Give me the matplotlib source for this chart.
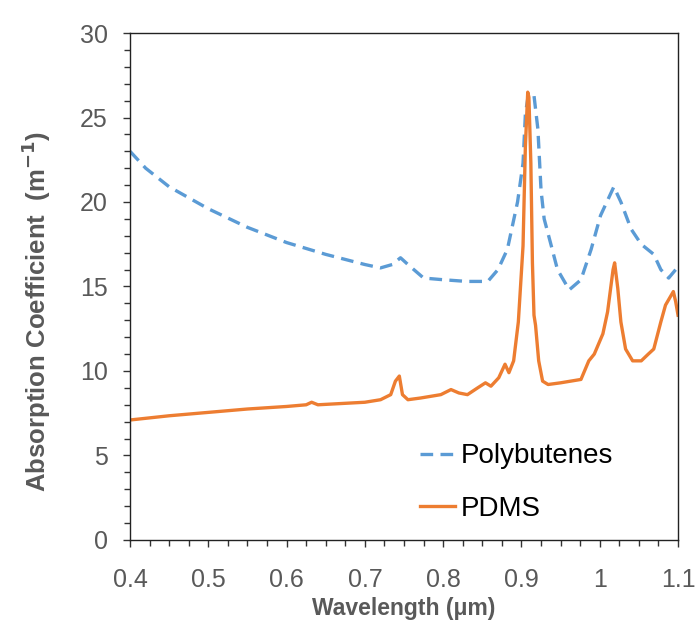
import matplotlib
matplotlib.use("Agg")
import matplotlib.pyplot as plt
from matplotlib.ticker import MultipleLocator, FuncFormatter

plt.rcParams['font.family'] = ['Liberation Sans', 'DejaVu Sans']

# Polybutenes (dashed blue)
pb_x = [0.40, 0.42, 0.45, 0.50, 0.55, 0.60, 0.65, 0.70, 0.72, 0.735, 0.7455,
        0.755, 0.775, 0.80, 0.83, 0.857, 0.870, 0.882, 0.895, 0.902, 0.905,
        0.909, 0.916, 0.921, 0.925, 0.929, 0.937, 0.946, 0.961, 0.976, 0.989,
        1.001, 1.018, 1.027, 1.040, 1.053, 1.069, 1.078, 1.088, 1.097, 1.10]
pb_y = [23.0, 22.0, 20.9, 19.6, 18.5, 17.6, 16.9, 16.3, 16.1, 16.3, 16.7,
        16.3, 15.5, 15.4, 15.3, 15.3, 16.0, 17.2, 20.0, 22.3, 25.2,
        26.4, 26.3, 24.3, 20.7, 19.0, 17.6, 16.0, 14.8, 15.4, 17.2,
        19.2, 20.9, 20.0, 18.4, 17.5, 16.9, 16.0, 15.5, 16.0, 16.2]

# PDMS (solid orange)
pd_x = [0.40, 0.45, 0.50, 0.55, 0.60, 0.625, 0.632, 0.64, 0.70, 0.72, 0.733,
        0.739, 0.744, 0.748, 0.755, 0.771, 0.797, 0.81, 0.82, 0.831, 0.844,
        0.854, 0.861, 0.871, 0.879, 0.884, 0.890, 0.896, 0.902, 0.905, 0.908,
        0.9095, 0.912, 0.914, 0.916, 0.918, 0.922, 0.927, 0.934, 0.950, 0.963,
        0.976, 0.986, 0.993, 1.004, 1.010, 1.017, 1.019, 1.023, 1.027, 1.033,
        1.042, 1.053, 1.062, 1.069, 1.078, 1.084, 1.094, 1.097, 1.10]
pd_y = [7.1, 7.35, 7.55, 7.75, 7.9, 8.0, 8.15, 8.0, 8.15, 8.3, 8.6,
        9.4, 9.7, 8.6, 8.3, 8.4, 8.6, 8.9, 8.7, 8.6, 9.0,
        9.3, 9.1, 9.6, 10.4, 9.9, 10.6, 12.9, 17.4, 23.3, 26.5,
        26.2, 22.3, 16.4, 13.3, 12.7, 10.6, 9.4, 9.2, 9.3, 9.4,
        9.5, 10.6, 11.0, 12.2, 13.5, 16.0, 16.4, 14.9, 12.9, 11.3,
        10.6, 10.6, 11.0, 11.3, 12.9, 13.9, 14.7, 14.1, 13.3]

gray = '#595959'

fig = plt.figure(figsize=(6.96, 6.3), dpi=100)
ax = fig.add_axes([0.1868, 0.1429, 0.7874, 0.8047])

ax.plot(pb_x, pb_y, color='#5B9BD5', lw=2.4, dashes=(3.8, 2.2), label='Polybutenes')
ax.plot(pd_x, pd_y, color='#ED7D31', lw=2.4, label='PDMS')

ax.set_xlim(0.4, 1.1)
ax.set_ylim(0, 30)
ax.xaxis.set_major_locator(MultipleLocator(0.1))
ax.xaxis.set_minor_locator(MultipleLocator(0.025))
ax.yaxis.set_major_locator(MultipleLocator(5))
ax.yaxis.set_minor_locator(MultipleLocator(1))
ax.xaxis.set_major_formatter(FuncFormatter(lambda v, p: f"{v:.1f}".rstrip('0').rstrip('.')))

ax.tick_params(which='both', direction='out', colors='#333333', labelcolor=gray,
               labelsize=18, width=1)
ax.tick_params(which='major', length=5)
ax.tick_params(which='minor', length=4)
ax.tick_params(axis='x', which='major', pad=15)
ax.tick_params(axis='y', which='major', pad=11)

for s in ['left', 'bottom', 'right', 'top']:
    ax.spines[s].set_color('#222222')
    ax.spines[s].set_linewidth(1)

ax.set_xlabel('Wavelength (μm)', fontsize=16.5, fontweight='bold', color=gray, labelpad=3.5)
ax.set_ylabel('Absorption Coefficient  (m$^{\\mathbf{-1}}$)', fontsize=18.5,
              fontweight='bold', color=gray)
ax.yaxis.set_label_coords(-0.14, 0.45)

ax.legend(loc='center left', bbox_to_anchor=(0.53, 0.113), frameon=False,
          fontsize=20, handlelength=1.26, handletextpad=0.18, labelspacing=0.96,
          borderpad=0, borderaxespad=0)

fig.savefig('out.png', dpi=100)
